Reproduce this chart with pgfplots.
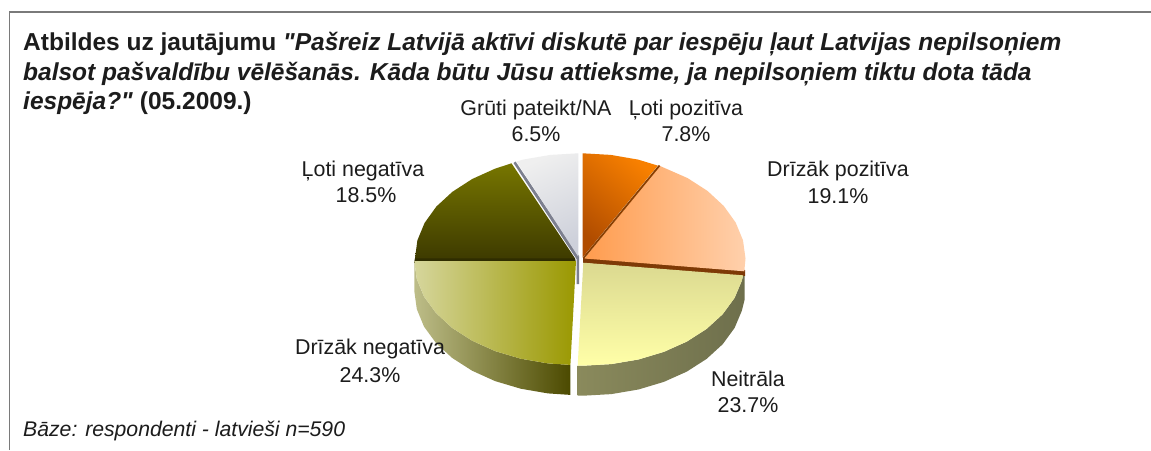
\documentclass[border=0pt]{standalone}
\usepackage{fontspec}
\setmainfont{Liberation Sans}[Ligatures=TeXReset]
\usepackage{pgfplots}
\pgfplotsset{compat=1.18}
\definecolor{txt}{HTML}{1C1C1C}
\definecolor{nsL}{HTML}{8A8A5C}\definecolor{nsR}{HTML}{6E6F4C}
\definecolor{dsL}{HTML}{BDBD88}\definecolor{dsR}{HTML}{4C4A00}
\definecolor{grS}{HTML}{7C7F8E}\definecolor{stA}{HTML}{2F2D00}\definecolor{stB}{HTML}{7E3A06}
\definecolor{lnT}{HTML}{777600}\definecolor{lnB}{HTML}{3E3B00}
\definecolor{grL}{HTML}{EFEFEF}\definecolor{grR}{HTML}{CDD0DA}
\definecolor{oE}{HTML}{8A3F00}\definecolor{oL}{HTML}{B04C00}\definecolor{oR}{HTML}{F88000}
\definecolor{pL}{HTML}{FF9C4E}\definecolor{pR}{HTML}{FFD0AC}
\definecolor{nT}{HTML}{DBD990}\definecolor{nB}{HTML}{FFFFA8}
\definecolor{dL}{HTML}{D6D69C}\definecolor{dR}{HTML}{9A9800}
\tikzset{lbl/.style={anchor=base, font=\fontsize{21.4}{23}\selectfont, text=txt, inner sep=0pt},
  ttl/.style={anchor=base west, inner sep=0pt, text=txt, font=\fontsize{24.5}{26}\selectfont\bfseries}}
\begin{document}
\begin{tikzpicture}[x=1pt,y=1pt]
\begin{axis}[
  scale only axis, width=1151pt, height=450pt,
  xmin=0, xmax=1151, ymin=0, ymax=450, y dir=reverse,
  axis lines=none, no markers,
  axis background/.style={fill=white},
]
% frame
\addplot[draw=black!52, line width=1.5pt] coordinates {(9.5,450) (9.5,12) (1151,12)};

% Neitrala side (23.7%)
\addplot[draw=none, shading=axis, left color=nsL, right color=nsR] coordinates {
(743.1,275.3)(741.9,280.6)(734.6,297.9)(722.7,314.2)(706.6,328.9)(686.8,341.6)(663.8,351.9)(638.4,359.5)(611.3,364.1)(583.3,365.7)(577.7,365.6)
(577.7,395.6)(583.3,395.7)(611.3,394.1)(638.4,389.5)(663.8,381.9)(686.8,371.6)(706.6,358.9)(722.7,344.2)(734.6,327.9)(741.9,310.6)(744.5,300)(744.5,276)} -- cycle;
% Drizak negativa side (24.3%)
\addplot[draw=none, shading=axis, left color=dsL, right color=dsR] coordinates {
(570.4,364.9)(547.9,363.4)(520.7,358.7)(495.1,351.1)(472.1,340.7)(452.1,327.9)(436,313)(424,296.6)(416.8,279.1)(414.3,261)
(414.3,291)(416.8,309.1)(424,326.6)(436,343)(452.1,357.9)(472.1,370.7)(495.1,381.1)(520.7,388.7)(547.9,393.4)(570.4,394.9)} -- cycle;

% grey side of the Gruti wedge
\addplot[draw=none, fill=grS] coordinates {(513.5,163)(515.5,161.5)(579,256)(579,284)(576.5,284)(576.5,259)} -- cycle;
% dark strips
\addplot[draw=none, fill=stA] coordinates {(415,258)(575,258)(576,263)(414,263)} -- cycle;
\addplot[draw=none, fill=stB] coordinates {(583,258)(745,270)(745,276)(583,263)} -- cycle;

% Loti negativa 18.5%
\addplot[draw=none, shading=axis, top color=lnT, bottom color=lnB] coordinates {
(415,258.3)(417.4,240.3)(424.6,222.9)(436.4,206.5)(452.4,191.8)(472.2,179)(495,168.7)(511.5,163.3)(575,258.3)} -- cycle;
% Gruti pateikt/NA 6.5%
\addplot[draw=none, shading=axis, left color=grL, right color=grR, shading angle=25] coordinates {
(516.5,161.5)(523.6,159.5)(550.5,154.9)(578.3,153.3)(578.3,256.7)} -- cycle;
% Drizak pozitiva 19.1%
\addplot[draw=none, shading=axis, left color=pL, right color=pR] coordinates {
(659.6,165.8)(687.6,178.1)(707.6,191)(723.8,206)(735.7,222.6)(743,240.3)(745.5,258.5)(744.3,271.3)(584.5,258.5)} -- cycle;
% Loti pozitiva 7.8%
\addplot[draw=none, shading=axis, left color=oL, right color=oR, shading angle=140] coordinates {
(582.7,153.3)(610.8,154.9)(638.1,159.6)(657.8,165.6)(582.7,257.3)} -- cycle;
\addplot[draw=oE, line width=1.8pt] coordinates {(583.5,258)(659.5,165.5)};
% Neitrala 23.7%
\addplot[draw=none, shading=axis, top color=nT, bottom color=nB] coordinates {
(743.1,275.3)(741.9,280.6)(734.6,297.9)(722.7,314.2)(706.6,328.9)(686.8,341.6)(663.8,351.9)(638.4,359.5)(611.3,364.1)(583.3,365.7)(577.7,365.6)(583.3,262.7)} -- cycle;
% Drizak negativa 24.3%
\addplot[draw=none, shading=axis, left color=dL, right color=dR] coordinates {
(570.4,364.9)(547.9,363.4)(520.7,358.7)(495.1,351.1)(472.1,340.7)(452.1,327.9)(436,313)(424,296.6)(416.8,279.1)(414.3,261)(576,261)} -- cycle;

% title
\node[ttl] at (axis cs:23,50) {Atbildes uz jautājumu \textit{"Pašreiz Latvijā aktīvi diskutē par iespēju ļaut Latvijas nepilsoņiem}};
\node[ttl] at (axis cs:23,80) {\textit{balsot pašvaldību vēlēšanās. Kāda būtu Jūsu attieksme, ja nepilsoņiem tiktu dota tāda}};
\node[ttl] at (axis cs:23,109) {\textit{iespēja?"} (05.2009.)};
% labels
\node[lbl] at (axis cs:536,115) {Grūti pateikt/NA};
\node[lbl] at (axis cs:536,141) {6.5\%};
\node[lbl] at (axis cs:686,115) {Ļoti pozitīva};
\node[lbl] at (axis cs:686,141) {7.8\%};
\node[lbl] at (axis cs:838,176) {Drīzāk pozitīva};
\node[lbl] at (axis cs:838,203) {19.1\%};
\node[lbl] at (axis cs:363,176) {Ļoti negatīva};
\node[lbl] at (axis cs:366,202) {18.5\%};
\node[lbl] at (axis cs:370,354) {Drīzāk negatīva};
\node[lbl] at (axis cs:370,382) {24.3\%};
\node[lbl] at (axis cs:748,386) {Neitrāla};
\node[lbl] at (axis cs:748,412) {23.7\%};
\node[anchor=base west, inner sep=0pt, text=txt, font=\fontsize{21.2}{23}\selectfont\itshape] at (axis cs:23,436) {Bāze: respondenti - latvieši n=590};
\end{axis}
\end{tikzpicture}
\end{document}
